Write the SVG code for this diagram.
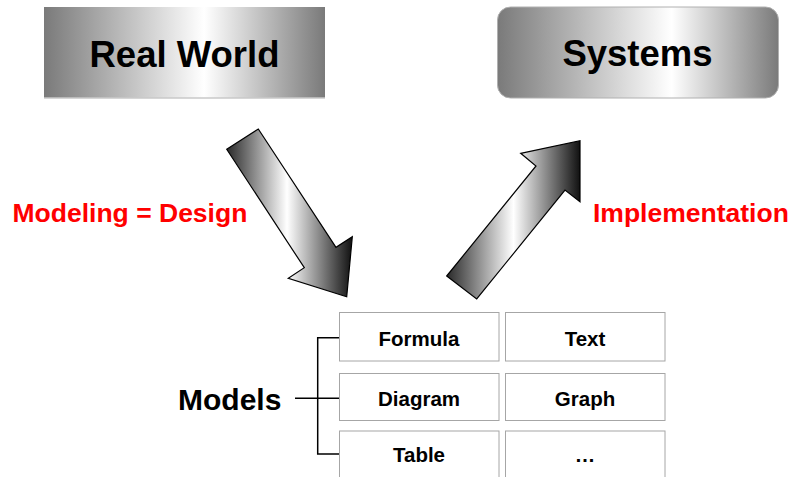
<svg xmlns="http://www.w3.org/2000/svg" width="792" height="477" viewBox="0 0 792 477">
<style>
.big{font-family:"Liberation Sans",Arial,sans-serif;font-weight:bold;font-size:36.5px;fill:#000;text-anchor:middle}
.red{font-family:"Liberation Sans",Arial,sans-serif;font-weight:bold;font-size:26.5px;fill:#ff0000}
.cell{fill:#fff;stroke:#a6a6a6;stroke-width:1}
.ct{font-family:"Liberation Sans",Arial,sans-serif;font-weight:bold;font-size:20.5px;fill:#000;text-anchor:middle}
.arrow{stroke:#000;stroke-width:1.2;stroke-linejoin:miter}
.line{stroke:#000;stroke-width:1.5;fill:none}
</style>
<defs>
<linearGradient id="boxg1" x1="0" y1="0" x2="1" y2="0">
<stop offset="0" stop-color="#7a7a7a"/><stop offset="0.57" stop-color="#ffffff"/><stop offset="1" stop-color="#7a7a7a"/>
</linearGradient>
<linearGradient id="boxg2" x1="0" y1="0" x2="1" y2="0">
<stop offset="0" stop-color="#7a7a7a"/><stop offset="0.62" stop-color="#ffffff"/><stop offset="1" stop-color="#7a7a7a"/>
</linearGradient>
<linearGradient id="arrg1" gradientUnits="userSpaceOnUse" x1="227" y1="0" x2="352" y2="0">
<stop offset="0" stop-color="#2a2a2a"/><stop offset="0.48" stop-color="#ffffff"/><stop offset="1" stop-color="#111"/>
</linearGradient>
<linearGradient id="arrg2" gradientUnits="userSpaceOnUse" x1="447" y1="0" x2="580" y2="0">
<stop offset="0" stop-color="#2a2a2a"/><stop offset="0.5" stop-color="#ffffff"/><stop offset="1" stop-color="#111"/>
</linearGradient>
</defs>

<g id="real-world">
<rect x="44" y="7" width="281" height="91" fill="url(#boxg1)"/>
<line x1="44" y1="98" x2="325" y2="98" stroke="#c8c8c8" stroke-width="1.5"/>
<text class="big" x="184.5" y="67">Real World</text>
</g>

<g id="systems">
<rect x="497.5" y="7" width="281" height="91" rx="13" ry="13" fill="url(#boxg2)" stroke="#b0b0b0" stroke-width="1"/>
<text class="big" x="637.5" y="66">Systems</text>
</g>

<g id="connectors">
<polygon class="arrow" fill="url(#arrg1)" points="226.7,149.3 258.3,129 336,247.3 352.3,236.7 346.7,296.7 288.3,278.3 304.3,267.7"/>
<polygon class="arrow" fill="url(#arrg2)" points="446.7,276 476.7,299 565,190 580,201.7 580,140.7 520.7,153.3 536,166"/>
<polyline class="line" points="339,337.7 317.7,337.7 317.7,454 339,454"/>
<line class="line" x1="295" y1="398.3" x2="339" y2="398.3"/>
</g>

<g id="label-modeling">
<text class="red" x="12.5" y="222">Modeling = Design</text>
</g>
<g id="label-implementation">
<text class="red" x="593" y="222">Implementation</text>
</g>

<g id="models">
<text x="178" y="410" font-family="Liberation Sans, Arial, sans-serif" font-weight="bold" font-size="30" fill="#000">Models</text>
</g>

<g id="cell-formula"><rect class="cell" x="339.5" y="312.5" width="159.5" height="48.5"/><text class="ct" x="419" y="346">Formula</text></g>
<g id="cell-text"><rect class="cell" x="505.5" y="312.5" width="159.5" height="48.5"/><text class="ct" x="585" y="346">Text</text></g>
<g id="cell-diagram"><rect class="cell" x="339.5" y="373.5" width="159.5" height="47"/><text class="ct" x="419" y="406">Diagram</text></g>
<g id="cell-graph"><rect class="cell" x="505.5" y="373.5" width="159.5" height="47"/><text class="ct" x="585" y="406">Graph</text></g>
<g id="cell-table"><rect class="cell" x="339.5" y="431" width="159.5" height="50"/><text class="ct" x="419" y="462">Table</text></g>
<g id="cell-more"><rect class="cell" x="505.5" y="431" width="159.5" height="50"/><text class="ct" x="585" y="462">…</text></g>
</svg>
